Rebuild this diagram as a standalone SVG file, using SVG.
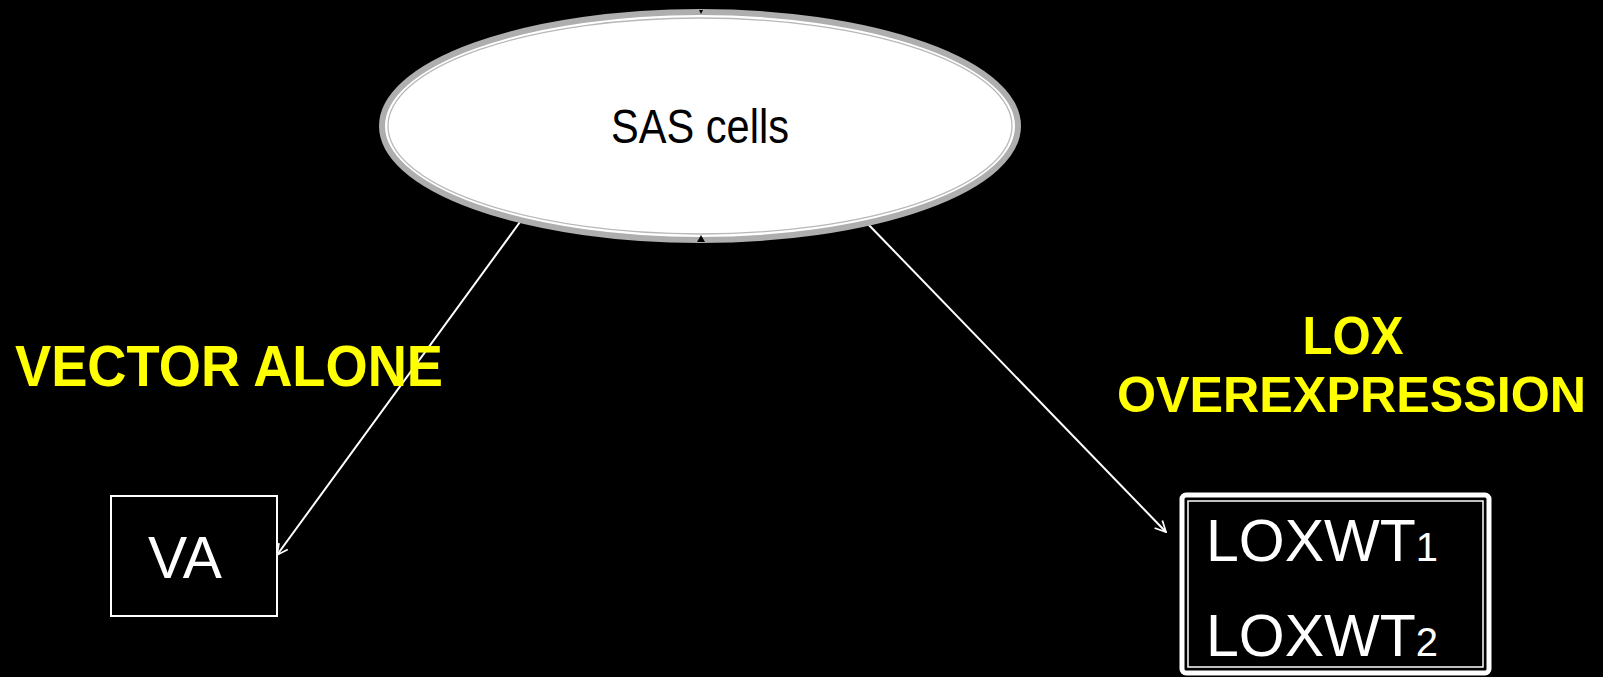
<svg xmlns="http://www.w3.org/2000/svg" width="1603" height="677" viewBox="0 0 1603 677">
<style>
.lbl{font-family:"Liberation Sans",Arial,sans-serif;font-weight:bold;fill:#FFFF00}
.wt{font-family:"Liberation Sans",Arial,sans-serif;fill:#FFFFFF}
.conn{stroke:#FFFFFF;stroke-width:2;fill:none}
</style>
<defs>
<marker id="arr" viewBox="0 0 12 12" refX="11" refY="6" markerWidth="13" markerHeight="13" markerUnits="userSpaceOnUse" orient="auto">
<path d="M1,1 L11,6 L1,11" fill="none" stroke="#FFFFFF" stroke-width="1.6"/>
</marker>
</defs>
<rect width="1603" height="677" fill="#000000"/>
<g id="connectors">
<line class="conn" x1="520" y1="222" x2="277" y2="555" marker-end="url(#arr)"/>
<line class="conn" x1="866" y1="222" x2="1166" y2="532" marker-end="url(#arr)"/>
</g>
<g id="sas">
<ellipse cx="700" cy="126" rx="318" ry="114" fill="#FFFFFF" stroke="#AEAEAE" stroke-width="6"/>
<ellipse cx="700" cy="126" rx="312" ry="108" fill="none" stroke="#B8B8B8" stroke-width="1.3"/>
<polygon points="697,242 701,235 705,242" fill="#000000"/>
<polygon points="699,10 701,14 703,10" fill="#000000"/>
<text x="700" y="143" text-anchor="middle" font-size="48" font-family="'Liberation Sans',Arial,sans-serif" fill="#000000" textLength="178" lengthAdjust="spacingAndGlyphs">SAS cells</text>
</g>
<g id="va">
<rect x="111" y="496" width="166" height="120" fill="#000000" stroke="#FFFFFF" stroke-width="2"/>
<text class="wt" x="148" y="578" font-size="60" textLength="74" lengthAdjust="spacingAndGlyphs">VA</text>
</g>
<g id="lox">
<rect x="1182" y="495" width="307" height="178" rx="4" fill="#000000" stroke="#FFFFFF" stroke-width="5"/>
<rect x="1188" y="501" width="295" height="166" fill="none" stroke="#FFFFFF" stroke-width="1.5"/>
<text class="wt" x="1206" y="561" font-size="59">LOXWT<tspan font-size="40">1</tspan></text>
<text class="wt" x="1206" y="656" font-size="59">LOXWT<tspan font-size="40">2</tspan></text>
</g>
<g id="label-vector">
<text class="lbl" x="15" y="386" font-size="58" textLength="428" lengthAdjust="spacingAndGlyphs">VECTOR ALONE</text>
</g>
<g id="label-lox">
<text class="lbl" x="1353" y="354" font-size="54" text-anchor="middle" textLength="101" lengthAdjust="spacingAndGlyphs">LOX</text>
<text class="lbl" x="1117" y="412" font-size="50" textLength="469" lengthAdjust="spacingAndGlyphs">OVEREXPRESSION</text>
</g>
</svg>
